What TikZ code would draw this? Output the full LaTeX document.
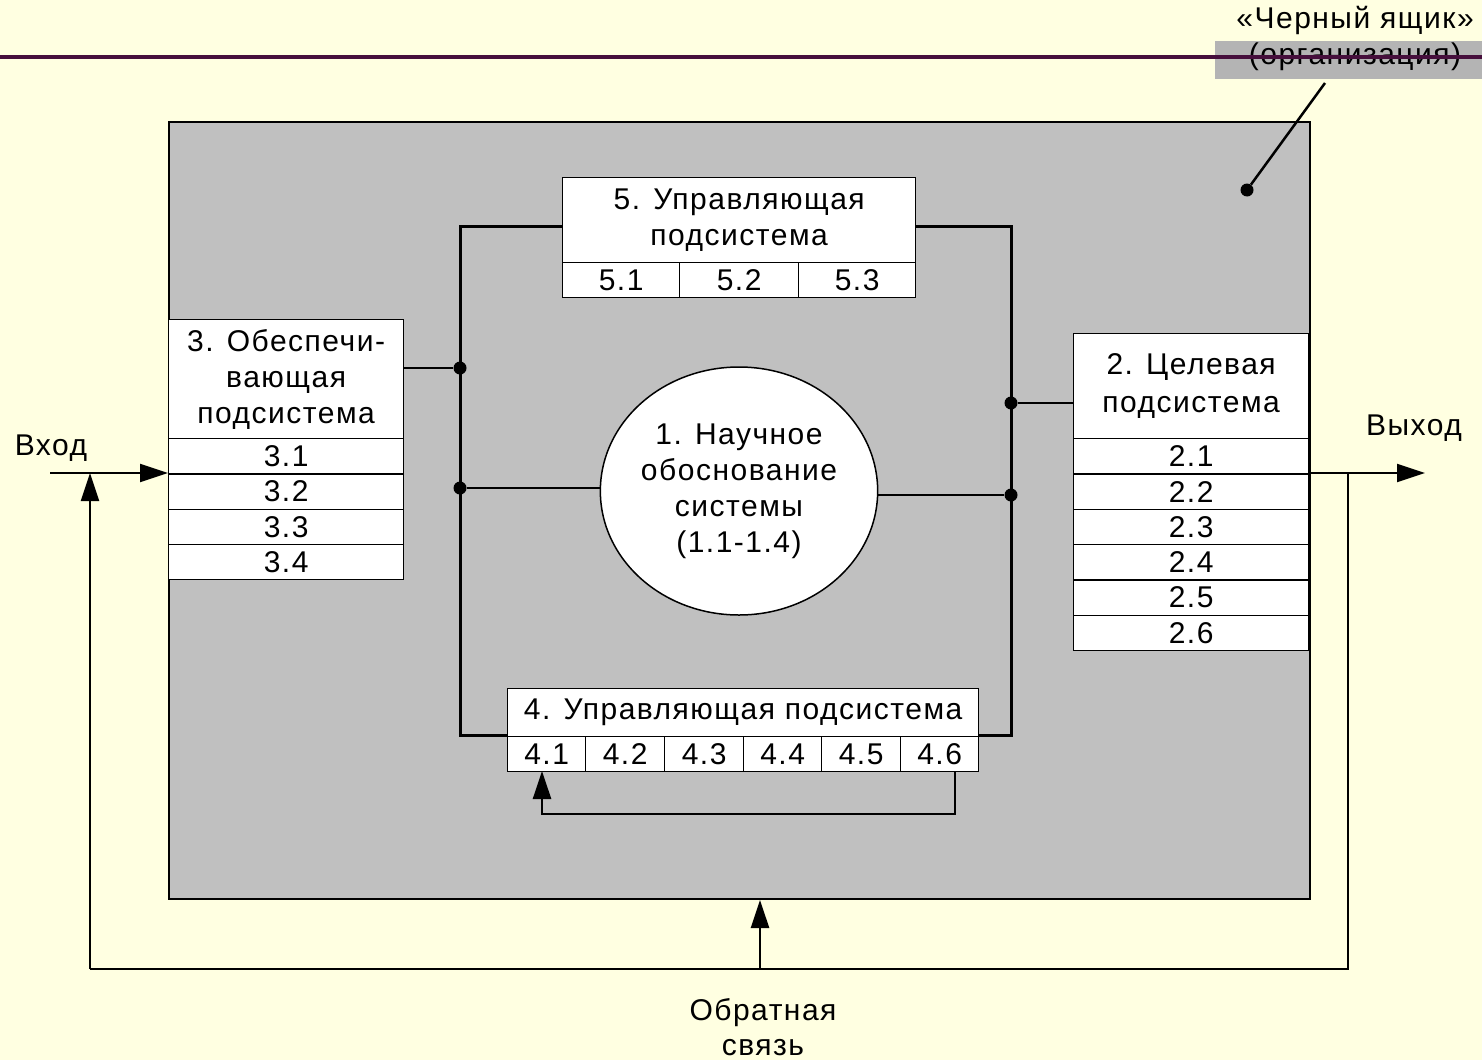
\documentclass[tikz,border=0pt]{standalone}
\usepackage{fontspec}
\setmainfont{Liberation Sans}[LetterSpace=5]
\usetikzlibrary{arrows.meta,shapes.geometric}

\definecolor{paper}{RGB}{255,255,225}
\definecolor{boxgray}{RGB}{192,192,192}
\definecolor{tabgray}{RGB}{180,180,180}
\definecolor{rule}{RGB}{70,15,60}

\tikzset{
  txt/.style={font=\fontsize{30}{36}\selectfont, inner sep=0pt},
  part/.style={draw, fill=white, line width=1.3pt, inner sep=0pt,
               anchor=north west, txt, align=center},
  bus/.style={line width=3pt},
  link/.style={line width=2.5pt},
  wire/.style={line width=2pt},
  tip/.style={-{Triangle[length=28pt,width=18pt]}},
  junction/.style={circle, fill=black, inner sep=0pt, minimum size=13pt},
}

\begin{document}
\begin{tikzpicture}[x=1pt,y=-1pt]
  % canvas
  \fill[paper] (0,0) rectangle (1482,1060);
  \path[use as bounding box] (0,0) rectangle (1482,1060);

  % caption tab with the black-box label
  \node[fill=tabgray, inner sep=0pt, anchor=north west,
        minimum width=267pt, minimum height=38pt] (tab) at (1215,41) {};
  \node[txt] (bbt1) at (1355,20) {«Черный ящик»};
  \node[txt] (bbt2) at (1355,57) {(организация)};
  \draw[rule, line width=4pt] (0,57) -- (1482,57);

  % the organisation as a whole
  \node[draw, fill=boxgray, line width=2pt, inner sep=0pt, anchor=north west,
        minimum width=1141pt, minimum height=777pt] (frame) at (168,121) {};

  % pointer to the black box
  \coordinate (lead) at (1325,83);
  \node[junction] (bbdot) at (1247,190) {};
  \draw[link] (lead) -- (bbdot);

  % 5. control subsystem (top)
  \node[part, minimum width=353pt, minimum height=85pt] (h5) at (562,177)
       {5. Управляющая\\подсистема};
  \node[part, minimum width=117pt, minimum height=35pt] (c51) at (562,262) {5.1};
  \node[part, minimum width=119pt, minimum height=35pt] (c52) at (679,262) {5.2};
  \node[part, minimum width=117pt, minimum height=35pt] (c53) at (798,262) {5.3};

  % 3. supporting subsystem (left)
  \node[part, minimum width=235pt, minimum height=119pt] (h3) at (168,319)
       {3. Обеспечи-\\вающая\\подсистема};
  \foreach \i in {1,...,4}
    \node[part, minimum width=235pt, minimum height=35.25pt] (c3\i)
         at (168,{438+35.25*(\i-1)}) {3.\i};

  % 2. target subsystem (right)
  \node[part, minimum width=235pt, minimum height=105pt] (h2) at (1073,333)
       {2. Целевая\\[2pt]подсистема};
  \foreach \i in {1,...,6}
    \node[part, minimum width=235pt, minimum height=35.3pt] (c2\i)
         at (1073,{438+35.3*(\i-1)}) {2.\i};

  % 4. control subsystem (bottom)
  \node[part, minimum width=471pt, minimum height=48pt] (h4) at (507,688)
       {4. Управляющая подсистема};
  \foreach \i/\x/\w in {1/507/78,2/585/79,3/664/79,4/743/78,5/821/79,6/900/78}
    \node[part, minimum width=\w pt, minimum height=35pt] (c4\i) at (\x,736) {4.\i};

  % 1. scientific grounding (centre)
  \node[ellipse, draw, fill=white, line width=1.5pt, txt, align=center,
        minimum width=274pt, minimum height=248pt] (sci) at (739,491)
       {1. Научное\\обоснование\\системы\\(1.1-1.4)};

  % internal bus
  \coordinate (tl) at (460,226);
  \coordinate (tr) at (1011,226);
  \coordinate (bl) at (460,735);
  \coordinate (br) at (1011,735);
  \draw[bus] (h5.west |- tl) -- (tl) -- (bl) -- (h4.west |- bl);
  \draw[bus] (h5.east |- tr) -- (tr) -- (br) -- (h4.east |- br);

  \node[junction] (j1) at (460,368) {};
  \node[junction] (j2) at (460,488) {};
  \node[junction] (j3) at (1011,403) {};
  \node[junction] (j4) at (1011,495) {};
  \draw[link] (h3.east |- j1) -- (j1);
  \draw[link] (j2) -- (sci.west |- j2);
  \draw[link] (sci.east |- j4) -- (j4);
  \draw[link] (j3) -- (h2.west |- j3);

  % loop inside subsystem 4
  \coordinate (l46) at (955,771);
  \coordinate (lr) at (955,814);
  \coordinate (ll) at (542,814);
  \coordinate (l41) at (542,771);
  \draw[link, tip] (l46) -- (lr) -- (ll) -- (l41);

  % input and output
  \coordinate (in) at (50,473);
  \coordinate (out) at (1425,473);
  \draw[wire, tip] (in) -- (in -| frame.west);
  \draw[wire, tip] (h2.east |- out) -- (out);
  \node[txt] (inlbl) at (51,448) {Вход};
  \node[txt] (outlbl) at (1414,428) {Выход};

  % outer feedback loop
  \coordinate (split) at (1348,473);
  \coordinate (fr) at (1348,969);
  \coordinate (fl) at (90,969);
  \coordinate (merge) at (90,473);
  \coordinate (fm) at (760,969);
  \draw[wire] (split) -- (fr) -- (fl);
  \draw[wire, tip] (fl) -- (merge);
  \draw[link, tip] (fm) -- (fm |- frame.south);
  \node[txt, align=center, font=\fontsize{30}{35}\selectfont]
       (fblbl) at (763,1027) {Обратная\\связь};
\end{tikzpicture}
\end{document}
